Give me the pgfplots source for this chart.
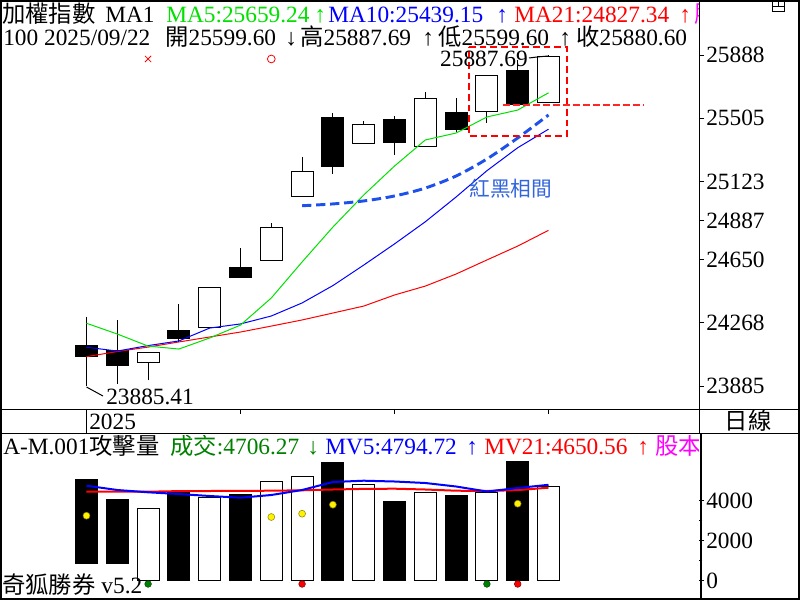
\documentclass[border=0pt]{standalone}
\usepackage{pgfplots}
\pgfplotsset{compat=1.18}
\usepgfplotslibrary{statistics}
\usepackage{fontspec}
\setmainfont{Liberation Serif}
\newfontfamily\cjk{Noto Sans CJK TC}
\definecolor{magent}{RGB}{255,0,255}
\definecolor{brgreen}{RGB}{0,225,0}
\definecolor{dkgreen}{RGB}{0,128,0}
\definecolor{annblue}{RGB}{30,80,235}
\definecolor{txtblue}{RGB}{50,100,220}
\newcommand{\fs}{\fontsize{17.5}{21}\selectfont}
\begin{document}
\begin{tikzpicture}[font=\fs]
% ---------------- price panel ----------------
\begin{axis}[
  at={(0pt,0pt)}, anchor=north west,
  scale only axis, width=524.25pt, height=306.75pt,
  xmin=-1.808, xmax=20.886, ymin=23746.3, ymax=26220.75,
  axis x line=none, axis y line*=right,
  y axis line style={draw=none},
  ytick={23885,24268,24650,24887,25123,25505,25888},
  scaled y ticks=false,
  /pgf/number format/1000 sep={},
  /pgf/number format/assume math mode=true,
  yticklabel style={font=\fs, inner sep=0pt, xshift=1.5pt},
  tick align=outside, major tick length=3.75pt,
  tick style={black, line width=0.75pt},
  clip=false,
  boxplot/draw direction=y,
  boxplot/box extend=0.72, boxplot/whisker extend=0,
]
% candles (O,H,L,C)
\addplot[black, fill=black, line width=0.75pt, boxplot prepared={draw position=1, lower whisker=23885.41, lower quartile=24063, median=24063, upper quartile=24133.5, upper whisker=24305}] coordinates {};
\addplot[black, fill=black, line width=0.75pt, boxplot prepared={draw position=2, lower whisker=23900, lower quartile=24008, median=24008, upper quartile=24099, upper whisker=24285}] coordinates {};
\addplot[black, fill=white, line width=0.75pt, boxplot prepared={draw position=3, lower whisker=23922, lower quartile=24029, median=24029, upper quartile=24089, upper whisker=24089}] coordinates {};
\addplot[black, fill=black, line width=0.75pt, boxplot prepared={draw position=4, lower whisker=24153, lower quartile=24172, median=24172, upper quartile=24224, upper whisker=24382}] coordinates {};
\addplot[black, fill=white, line width=0.75pt, boxplot prepared={draw position=5, lower whisker=24241, lower quartile=24241, median=24241, upper quartile=24484, upper whisker=24484}] coordinates {};
\addplot[black, fill=black, line width=0.75pt, boxplot prepared={draw position=6, lower whisker=24541, lower quartile=24541, median=24541, upper quartile=24604, upper whisker=24719}] coordinates {};
\addplot[black, fill=white, line width=0.75pt, boxplot prepared={draw position=7, lower whisker=24646, lower quartile=24646, median=24646, upper quartile=24846, upper whisker=24872}] coordinates {};
\addplot[black, fill=white, line width=0.75pt, boxplot prepared={draw position=8, lower whisker=25033, lower quartile=25033, median=25033, upper quartile=25184, upper whisker=25271}] coordinates {};
\addplot[black, fill=black, line width=0.75pt, boxplot prepared={draw position=9, lower whisker=25170, lower quartile=25212, median=25212, upper quartile=25507, upper whisker=25537}] coordinates {};
\addplot[black, fill=white, line width=0.75pt, boxplot prepared={draw position=10, lower whisker=25354, lower quartile=25354, median=25354, upper quartile=25469, upper whisker=25489}] coordinates {};
\addplot[black, fill=black, line width=0.75pt, boxplot prepared={draw position=11, lower whisker=25285, lower quartile=25357, median=25357, upper quartile=25495, upper whisker=25517}] coordinates {};
\addplot[black, fill=white, line width=0.75pt, boxplot prepared={draw position=12, lower whisker=25336, lower quartile=25336, median=25336, upper quartile=25626, upper whisker=25662}] coordinates {};
\addplot[black, fill=black, line width=0.75pt, boxplot prepared={draw position=13, lower whisker=25420, lower quartile=25436, median=25436, upper quartile=25541, upper whisker=25626}] coordinates {};
\addplot[black, fill=white, line width=0.75pt, boxplot prepared={draw position=14, lower whisker=25475, lower quartile=25547, median=25547, upper quartile=25767, upper whisker=25767}] coordinates {};
\addplot[black, fill=black, line width=0.75pt, boxplot prepared={draw position=15, lower whisker=25590, lower quartile=25590, median=25590, upper quartile=25797, upper whisker=25858}] coordinates {};
\addplot[black, fill=white, line width=0.75pt, boxplot prepared={draw position=16, lower whisker=25599.60, lower quartile=25599.60, median=25599.60, upper quartile=25880.60, upper whisker=25887.69}] coordinates {};
% moving averages
\addplot[red, line width=0.75pt] coordinates {(1,24063) (2,24094) (3,24121) (4,24152) (5,24182) (6,24212) (7,24248) (8,24285) (9,24327) (10,24369) (11,24436) (12,24490) (13,24563) (14,24648) (15,24732) (16,24827.34)};
\addplot[blue, line width=0.75pt] coordinates {(1,24120) (2,24097) (3,24130) (4,24158) (5,24236) (6,24261) (7,24309) (8,24388) (9,24493) (10,24617) (11,24745) (12,24879) (13,25029) (14,25188) (15,25327) (16,25439.15)};
\addplot[brgreen, line width=0.75pt] coordinates {(1,24265) (2,24200) (3,24127) (4,24109) (5,24176) (6,24254) (7,24418) (8,24636) (9,24847) (10,25041) (11,25216) (12,25374) (13,25416) (14,25513) (15,25555) (16,25659.24)};
% annotation curve
\addplot[annblue, line width=2.2pt, dash pattern=on 7pt off 3.5pt, smooth] coordinates {(8,24976) (9,24987) (10,25005) (11,25035) (12,25083) (13,25156) (14,25259) (15,25386) (16,25525)};
% red dashed box and level line
\addplot[red, line width=1.5pt, dash pattern=on 5pt off 3pt] coordinates {(13.42,25936) (16.6,25936) (16.6,25398) (13.42,25398) (13.42,25936)};
\addplot[red!85, line width=1.5pt, dash pattern=on 5pt off 2.5pt] coordinates {(14.52,25588) (19.1,25588)};
% signal marks
\addplot[red, only marks, mark=x, mark size=3.3pt, line width=0.6pt] coordinates {(3,25864)};
\addplot[red, only marks, mark=o, mark size=2.9pt, line width=0.6pt] coordinates {(7,25864)};
\node[txtblue, inner sep=0pt, font=\cjk\fontsize{15.5}{18}\selectfont] at (axis cs:14.78,25077) {紅黑相間};
\end{axis}
% ---------------- volume panel ----------------
\begin{axis}[
  at={(0pt,-324.75pt)}, anchor=north west,
  scale only axis, width=524.25pt, height=123.75pt,
  xmin=-1.808, xmax=20.886, ymin=-865, ymax=7385,
  axis x line=none, axis y line*=right,
  y axis line style={draw=none},
  ytick={0,2000,4000}, minor ytick={1000,3000},
  scaled y ticks=false,
  /pgf/number format/1000 sep={},
  /pgf/number format/assume math mode=true,
  yticklabel style={font=\fs, inner sep=0pt, xshift=1.5pt},
  tick align=outside, major tick length=3.75pt, minor tick length=2.5pt,
  tick style={black, line width=0.75pt},
  clip=false,
]
\addplot[ybar, bar width=16.6pt, bar shift=0pt, fill=black, draw=black, line width=0.75pt] coordinates {(1,5085) (2,4085) (4,4420) (6,4335) (9,5900) (11,3985) (13,4285) (15,5985)};
\addplot[ybar, bar width=16.6pt, bar shift=0pt, fill=white, draw=black, line width=0.75pt] coordinates {(3,3620) (5,4170) (7,4985) (8,5235) (10,4835) (12,4435) (14,4435) (16,4706.27)};
\addplot[red, line width=1.5pt] coordinates {(1,4450) (2,4450) (3,4450) (4,4480) (5,4485) (6,4490) (7,4500) (8,4520) (9,4560) (10,4590) (11,4600) (12,4560) (13,4500) (14,4485) (15,4530) (16,4650.56)};
\addplot[blue, line width=1.5pt] coordinates {(1,4750) (2,4535) (3,4420) (4,4335) (5,4235) (6,4150) (7,4285) (8,4535) (9,4935) (10,5000) (11,4960) (12,4885) (13,4710) (14,4460) (15,4635) (16,4794.72)};
\addplot[only marks, mark=*, mark size=2.6pt, mark options={fill=yellow, draw=olive, line width=0.4pt}] coordinates {(1,3250) (7,3185) (8,3350) (9,3800) (15,3850)};
\addplot[only marks, mark=*, mark size=2.5pt, mark options={fill=dkgreen, draw=black!70!green, line width=0.4pt}] coordinates {(3,-165) (14,-165)};
\addplot[only marks, mark=*, mark size=2.5pt, mark options={fill=red, draw=red!50!black, line width=0.4pt}] coordinates {(8,-165) (15,-165)};
\end{axis}
% ---------------- frame and texts ----------------
\begin{scope}[x=0.75pt, y=-0.75pt]
  \fill[white] (0,564) rectangle (133,597);
  \node[anchor=base west, inner sep=0pt] at (2,593) {{\cjk 奇狐勝券} v5.2};
  \draw[line width=1.5pt] (1,1) rectangle (799,599);
  \draw[line width=0.75pt] (0,409) -- (800,409);
  \draw[line width=0.75pt] (0,433) -- (800,433);
  \draw[line width=0.75pt] (699.5,0) -- (699.5,433);
  \draw[line width=1.5pt] (700.5,433) -- (700.5,598);
  \draw[line width=0.75pt] (86.5,409) -- (86.5,433);
  \foreach \x in {240.5,394.5,548.5} \draw[line width=0.75pt] (\x,409) -- (\x,414);
  \node[anchor=base west, inner sep=0pt] at (89,429.5) {2025};
  \node[inner sep=0pt] at (748,421) {\cjk 日線};
  \draw[line width=0.75pt] (772,1) rectangle (784,11) (772,6) -- (784,6) (778,1) -- (778,6);
  % price annotations
  \node[anchor=base east, inner sep=0pt] at (528,66.5) {25887.69};
  \draw[line width=0.75pt] (529,58) -- (537,57) -- (548,56);
  \node[anchor=base west, inner sep=0pt] at (106,404) {23885.41};
  \draw[line width=0.75pt] (86.5,387) -- (103,396);
  % headers
  \begin{scope}
    \clip (0,0) rectangle (698,60);
    \node[anchor=base west, inner sep=0pt] at (2,22) {\cjk 加權指數};
    \node[anchor=base west, inner sep=0pt] at (105,22) {MA1};
    \node[anchor=base west, inner sep=0pt, text=brgreen] at (166,22) {MA5:25659.24};
    \node[anchor=base west, inner sep=0pt, text=brgreen] at (314,22) {↑};
    \node[anchor=base west, inner sep=0pt, text=blue] at (328,22) {MA10:25439.15};
    \node[anchor=base west, inner sep=0pt, text=blue] at (496,22) {↑};
    \node[anchor=base west, inner sep=0pt, text=red] at (514,22) {MA21:24827.34};
    \node[anchor=base west, inner sep=0pt, text=red] at (679,22) {↑};
    \node[anchor=base west, inner sep=0pt, text=magent] at (694,22) {\cjk 股本};
    \node[anchor=base west, inner sep=0pt] at (3,45) {100 2025/09/22};
    \node[anchor=base west, inner sep=0pt] at (165,45) {{\cjk 開}25599.60};
    \node[anchor=base west, inner sep=0pt] at (285,45) {↓};
    \node[anchor=base west, inner sep=0pt] at (300,45) {{\cjk 高}25887.69};
    \node[anchor=base west, inner sep=0pt] at (422,45) {↑};
    \node[anchor=base west, inner sep=0pt] at (438,45) {{\cjk 低}25599.60};
    \node[anchor=base west, inner sep=0pt] at (559,45) {↑};
    \node[anchor=base west, inner sep=0pt] at (576,45) {{\cjk 收}25880.60};
  \end{scope}
  \begin{scope}
    \clip (0,435) rectangle (698,460);
    \node[anchor=base west, inner sep=0pt] at (3,454) {A-M.001{\cjk 攻擊量}};
    \node[anchor=base west, inner sep=0pt, text=dkgreen] at (170,454) {{\cjk 成交}:4706.27};
    \node[anchor=base west, inner sep=0pt, text=dkgreen] at (307,454) {↓};
    \node[anchor=base west, inner sep=0pt, text=blue] at (325,454) {MV5:4794.72};
    \node[anchor=base west, inner sep=0pt, text=blue] at (466,454) {↑};
    \node[anchor=base west, inner sep=0pt, text=red] at (484,454) {MV21:4650.56};
    \node[anchor=base west, inner sep=0pt, text=red] at (637,454) {↑};
    \node[anchor=base west, inner sep=0pt, text=magent] at (655,454) {\cjk 股本};
  \end{scope}
  \pgfresetboundingbox
  \path[use as bounding box] (0,0) rectangle (800,600);
\end{scope}
\end{tikzpicture}
\end{document}
